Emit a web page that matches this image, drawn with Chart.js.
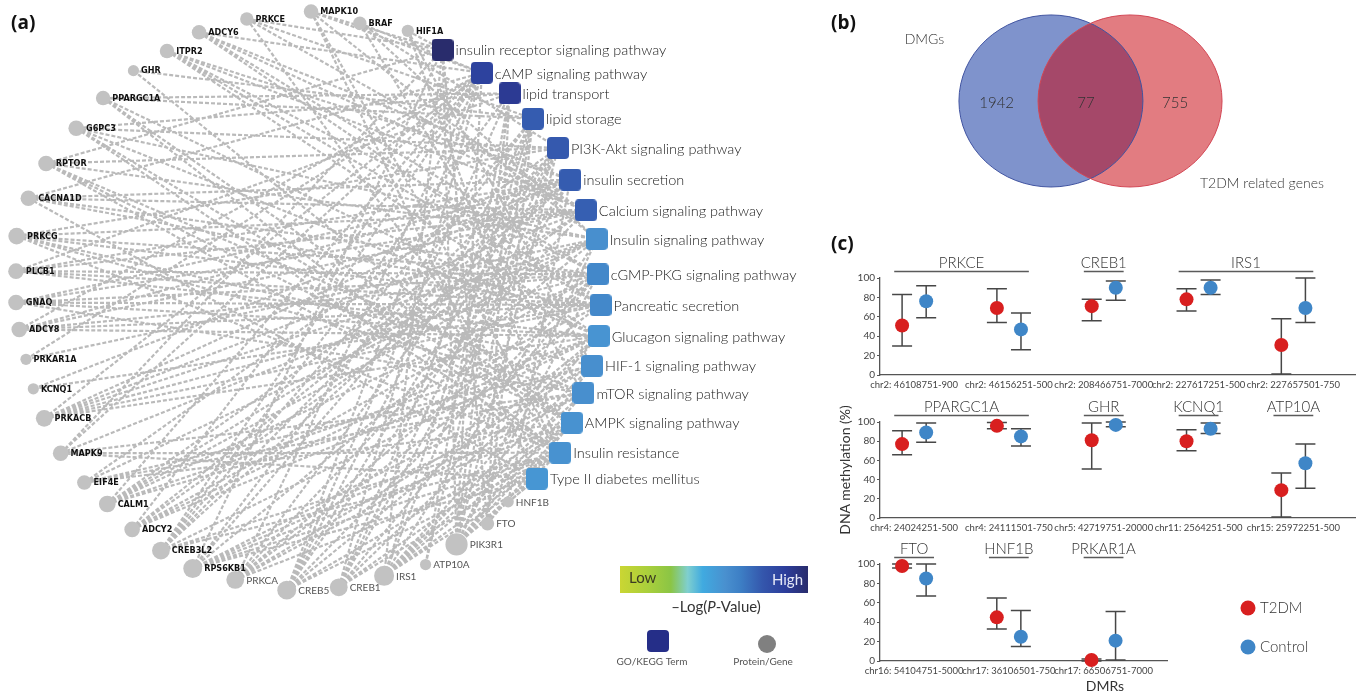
<!DOCTYPE html>
<html lang="en">
<head>
<meta charset="utf-8">
<title>DMG enrichment network and DMR methylation</title>
<script src="https://cdn.jsdelivr.net/npm/chart.js@4.4.1/dist/chart.umd.min.js"></script>
<style>
  html, body { margin: 0; padding: 0; background: #fff; }
  #page { position: relative; width: 1358px; height: 694px; overflow: hidden; font-family: Lato, 'Open Sans', sans-serif; color: #333; }
  #page canvas { position: absolute; }
  .tag { position: absolute; font: bold 19px 'Open Sans', 'DejaVu Sans', sans-serif; color: #111; line-height: 1; }
  .txt { position: absolute; white-space: nowrap; line-height: 1; font-size: 14px; color: #333; }
</style>
</head>
<body>
<div id="page">
  <canvas id="network" width="830" height="694" style="left:0px;top:0px"></canvas>
  <canvas id="venn" width="518" height="230" style="left:840px;top:0px"></canvas>
  <canvas id="row1" width="523" height="147" style="left:835px;top:250px"></canvas>
  <canvas id="row2" width="523" height="148" style="left:835px;top:392px"></canvas>
  <canvas id="row3" width="523" height="147" style="left:835px;top:536px"></canvas>
  <div class="tag" style="left:11px;top:13px">(a)</div>
  <div class="tag" style="left:831px;top:13px">(b)</div>
  <div class="tag" style="left:831px;top:234px">(c)</div>
  <div class="txt" style="left:845px;top:470px;transform:translate(-50%,-50%) rotate(-90deg)">DNA methylation (%)</div>
  <div class="txt" style="left:1105px;top:686px;transform:translate(-50%,-50%)">DMRs</div>
</div>
<script>
// ---------------- (a) GO/KEGG enrichment network ----------------
const termNames = [
  'insulin receptor signaling pathway', 'cAMP signaling pathway', 'lipid transport', 'lipid storage',
  'PI3K-Akt signaling pathway', 'insulin secretion', 'Calcium signaling pathway', 'Insulin signaling pathway',
  'cGMP-PKG signaling pathway', 'Pancreatic secretion', 'Glucagon signaling pathway', 'HIF-1 signaling pathway',
  'mTOR signaling pathway', 'AMPK signaling pathway', 'Insulin resistance', 'Type II diabetes mellitus'
];
// enrichment strength, -log10(P)
const termNegLogP = [14.0, 12.3, 12.8, 10.9, 11.0, 10.9, 10.8, 8.8, 9.2, 9.2, 8.5, 8.8, 8.8, 8.6, 8.6, 8.4];

const geneNames = [
  'HIF1A', 'BRAF', 'MAPK10', 'PRKCE', 'ADCY6', 'ITPR2', 'GHR', 'PPARGC1A', 'G6PC3', 'RPTOR', 'CACNA1D',
  'PRKCG', 'PLCB1', 'GNAQ', 'ADCY8', 'PRKAR1A', 'KCNQ1', 'PRKACB', 'MAPK9', 'EIF4E', 'CALM1', 'ADCY2',
  'CREB3L2', 'RPS6KB1', 'PRKCA', 'CREB5', 'CREB1', 'IRS1', 'ATP10A', 'PIK3R1', 'FTO', 'HNF1B'
];
// term indices each gene is annotated to
const geneTermLinks = [
  [0, 11, 14], [1, 4, 7, 12], [0, 1, 7, 14, 15], [0, 3, 6, 14], [1, 5, 6, 8, 9], [5, 6, 8, 9, 10],
  [3, 13], [2, 3, 10, 13, 14], [2, 4, 7, 10, 13, 14], [0, 4, 7, 12, 13, 14], [1, 5, 6, 8, 9, 15],
  [4, 6, 8, 9, 11, 12, 14], [2, 5, 6, 8, 9, 10], [5, 6, 8, 9, 10, 12], [1, 5, 6, 8, 9, 10], [1, 7],
  [5, 9], [1, 5, 6, 7, 8, 9, 10], [0, 1, 7, 12, 14, 15], [4, 7, 11, 12, 13], [1, 5, 6, 7, 8, 10, 11],
  [1, 5, 6, 8, 9, 10], [1, 2, 3, 4, 5, 10, 13, 14], [0, 3, 4, 7, 11, 12, 13, 14, 15],
  [1, 4, 6, 8, 9, 11, 12, 14], [1, 2, 3, 4, 5, 8, 10, 13, 14], [1, 3, 4, 5, 8, 10, 13, 14],
  [0, 3, 4, 7, 10, 11, 12, 13, 14, 15], [2, 3], [0, 1, 2, 3, 4, 7, 8, 11, 12, 13, 14, 15], [0, 2, 3, 13], [5, 15]
];

// ---------------- (b) overlap of gene sets ----------------
const vennSetNames = ['DMGs', 'T2DM related genes'];
const vennOnlyCounts = [1942, 755];
const vennSharedCount = 77;

// ---------------- (c) DMR methylation, mean with range ----------------
const dmrRow1 = ['chr2: 46108751-900', 'chr2: 46156251-500', 'chr2: 208466751-7000', 'chr2: 227617251-500', 'chr2: 227657501-750'];
const geneRow1 = ['PRKCE', 'PRKCE', 'CREB1', 'IRS1', 'IRS1'];
const t2dmRow1 = [51, 69, 71, 78, 31];
const t2dmLowRow1 = [30, 54, 56, 66, 1];
const t2dmHighRow1 = [83, 89, 78, 89, 58];
const ctrlRow1 = [76, 47, 90, 90, 69];
const ctrlLowRow1 = [59, 26, 77, 83, 54];
const ctrlHighRow1 = [92, 64, 97, 98, 100];

const dmrRow2 = ['chr4: 24024251-500', 'chr4: 24111501-750', 'chr5: 42719751-20000', 'chr11: 2564251-500', 'chr15: 25972251-500'];
const geneRow2 = ['PPARGC1A', 'PPARGC1A', 'GHR', 'KCNQ1', 'ATP10A'];
const t2dmRow2 = [77, 96, 81, 80, 29];
const t2dmLowRow2 = [66, 93, 51, 70, 1];
const t2dmHighRow2 = [91, 99.5, 99, 92, 47];
const ctrlRow2 = [89, 85, 97, 93, 57];
const ctrlLowRow2 = [79, 75, 95, 88, 31];
const ctrlHighRow2 = [99, 93, 100, 99, 77];

const dmrRow3 = ['chr16: 54104751-5000', 'chr17: 36106501-750', 'chr17: 66506751-7000'];
const geneRow3 = ['FTO', 'HNF1B', 'PRKAR1A'];
const t2dmRow3 = [98, 45, 1];
const t2dmLowRow3 = [96, 33, 0];
const t2dmHighRow3 = [100, 65, 2];
const ctrlRow3 = [85, 25, 21];
const ctrlLowRow3 = [67, 15, 1];
const ctrlHighRow3 = [100, 52, 51];

// ---------------- layout and styling ----------------
Chart.defaults.font.family = "Lato, 'Open Sans', sans-serif";
Chart.defaults.color = '#444';
Chart.defaults.animation = false;
Chart.defaults.responsive = false;
Chart.defaults.events = [];
Chart.defaults.layout.autoPadding = false;
Chart.defaults.plugins.legend.display = false;
Chart.defaults.plugins.tooltip.enabled = false;

// circular layout: angle (degrees, clockwise from 3 o'clock) and ring distance of each node
const termAngleDeg = [-61.2, -52.1, -45.3, -38.5, -31.0, -24.4, -17.7, -11.8, -5.0, 1.0, 7.0, 12.9, 18.5, 24.7, 30.9, 37.6];
const termRing = [0.988, 0.996, 1.006, 1.008, 1.021, 1.008, 1.02, 1.031, 1.017, 1.023, 1.024, 1.019, 1.016, 1.016, 1.029, 1.013];
const geneAngleDeg = [290.9, 281.2, 271.2, 258.3, 248.4, 241.0, 233.2, 225.0, 216.9, 207.8, 200.2, 192.5, 185.7,
  179.5, 174.1, 168.0, 161.9, 155.6, 147.9, 140.4, 134.1, 127.0, 119.9, 112.7, 104.0, 93.6, 83.3, 74.0, 65.5, 58.2, 50.8, 44.8];
const geneRing = [0.997, 0.976, 0.998, 0.993, 0.996, 0.985, 0.991, 0.988, 0.99, 1.013, 1.02, 1.022, 1.005, 1.0, 0.994,
  0.987, 0.989, 0.991, 0.998, 0.991, 0.983, 0.994, 1.0, 1.007, 0.998, 1.006, 1.001, 0.993, 1.006, 0.995, 0.999, 0.991];
const plainLabelGenes = new Set(['PRKCA', 'CREB5', 'CREB1', 'IRS1', 'ATP10A', 'PIK3R1', 'FTO', 'HNF1B']);
const nodeRadius = degree => 4.5 + 0.55 * degree;

const cmapStops = [[0, '#cad633'], [0.15, '#a9cf3c'], [0.27, '#8bc545'], [0.36, '#7fcfcf'], [0.44, '#40aae0'],
  [0.56, '#4990cf'], [0.64, '#3d7fc5'], [0.76, '#3456ac'], [0.88, '#2c3d9b'], [1, '#292c6c']];
const LOGP_MIN = 2, LOGP_MAX = 14;

function hexRgb(h) { return [1, 3, 5].map(i => parseInt(h.slice(i, i + 2), 16)); }
function cmap(t) {
  t = Math.max(0, Math.min(1, t));
  for (let i = 1; i < cmapStops.length; i++) {
    const [t1, c1] = cmapStops[i];
    const [t0, c0] = cmapStops[i - 1];
    if (t <= t1) {
      const f = (t - t0) / (t1 - t0), a = hexRgb(c0), b = hexRgb(c1);
      return 'rgb(' + a.map((v, k) => Math.round(v + (b[k] - v) * f)).join(',') + ')';
    }
  }
  return cmapStops[cmapStops.length - 1][1];
}
function roundedSquare(color, size, r) {
  const c = document.createElement('canvas');
  c.width = size; c.height = size;
  const g = c.getContext('2d');
  g.fillStyle = color;
  g.beginPath();
  g.roundRect(0, 0, size, size, r);
  g.fill();
  return c;
}

const rad = Math.PI / 180;
const genePts = geneNames.map((name, i) => ({ x: geneRing[i] * Math.cos(geneAngleDeg[i] * rad), y: geneRing[i] * Math.sin(geneAngleDeg[i] * rad) }));
const termPts = termNames.map((name, i) => ({ x: termRing[i] * Math.cos(termAngleDeg[i] * rad), y: termRing[i] * Math.sin(termAngleDeg[i] * rad) }));
const edgePts = [];
geneTermLinks.forEach((list, gi) => list.forEach(ti => {
  edgePts.push({ x: genePts[gi].x, y: genePts[gi].y }, { x: termPts[ti].x, y: termPts[ti].y }, { x: null, y: null });
}));
const termColors = termNegLogP.map(v => cmap((v - LOGP_MIN) / (LOGP_MAX - LOGP_MIN)));

const networkLabels = {
  id: 'networkLabels',
  afterDatasetsDraw(chart) {
    const ctx = chart.ctx;
    ctx.save();
    ctx.textBaseline = 'middle';
    chart.getDatasetMeta(0).data.forEach((el, i) => {
      ctx.font = '300 14.5px Lato, "Open Sans", sans-serif';
      ctx.fillStyle = '#222';
      ctx.fillText(termNames[i], el.x + 13, el.y + 1);
    });
    chart.getDatasetMeta(1).data.forEach((el, i) => {
      const name = geneNames[i];
      const r = nodeRadius(geneTermLinks[i].length);
      if (plainLabelGenes.has(name)) {
        ctx.font = '10px Lato, "Open Sans", sans-serif';
        ctx.fillStyle = '#555';
      } else {
        ctx.font = 'bold 9px "DejaVu Sans Condensed", "Liberation Sans", sans-serif';
        ctx.fillStyle = '#111';
      }
      ctx.fillText(name, el.x + r + 2, el.y + 0.5);
    });
    ctx.restore();
  },
  afterDraw(chart) {
    const ctx = chart.ctx;
    ctx.save();
    // colour key
    const x0 = 620, x1 = 808, y0 = 566, y1 = 593;
    const grad = ctx.createLinearGradient(x0, 0, x1, 0);
    cmapStops.forEach(([t, c]) => grad.addColorStop(t, c));
    ctx.fillStyle = grad;
    ctx.fillRect(x0, y0, x1 - x0, y1 - y0);
    ctx.textBaseline = 'middle';
    ctx.font = '15px Lato, "Open Sans", sans-serif';
    ctx.fillStyle = '#3b3b22';
    ctx.textAlign = 'left';
    ctx.fillText('Low', 629, 578);
    ctx.fillStyle = '#e4e7f6';
    ctx.textAlign = 'right';
    ctx.fillText('High', 803, 580);
    // -Log(P-Value) with italic P
    const parts = [['\u2013Log(', '15px'], ['P', 'italic 15px'], ['-Value)', '15px']];
    const fam = ' Lato, "Open Sans", sans-serif';
    let total = 0;
    parts.forEach(p => { ctx.font = p[1] + fam; total += ctx.measureText(p[0]).width; });
    let x = 716 - total / 2;
    ctx.textAlign = 'left';
    ctx.fillStyle = '#333';
    parts.forEach(p => { ctx.font = p[1] + fam; ctx.fillText(p[0], x, 607); x += ctx.measureText(p[0]).width; });
    // node type key
    ctx.fillStyle = '#252e88';
    ctx.beginPath(); ctx.roundRect(647, 630, 22, 22, 4); ctx.fill();
    ctx.fillStyle = '#808080';
    ctx.beginPath(); ctx.arc(767, 644, 9, 0, 2 * Math.PI); ctx.fill();
    ctx.font = '10px Lato, "Open Sans", sans-serif';
    ctx.fillStyle = '#555';
    ctx.textAlign = 'center';
    ctx.fillText('GO/KEGG Term', 652, 662);
    ctx.fillText('Protein/Gene', 763, 662);
    ctx.restore();
  }
};

new Chart(document.getElementById('network'), {
  type: 'scatter',
  data: {
    datasets: [
      { label: 'GO/KEGG Term', data: termPts, pointStyle: termColors.map(c => roundedSquare(c, 22, 4)), pointRadius: 11, clip: false },
      { label: 'Protein/Gene', data: genePts, pointRadius: geneTermLinks.map(l => nodeRadius(l.length)),
        backgroundColor: '#c2c2c2', borderWidth: 0, clip: false },
      { label: 'links', data: edgePts, showLine: true, pointRadius: 0, borderColor: '#bababa', borderWidth: 2.2,
        borderDash: [4, 2], spanGaps: false, clip: false }
    ]
  },
  options: {
    layout: { padding: 0 },
    scales: {
      x: { type: 'linear', display: false, min: -1.0554, max: 1.8166 },
      y: { type: 'linear', display: false, reverse: true, min: -1.038, max: 1.3633 }
    }
  },
  plugins: [networkLabels]
});

// ---------------- (b) Venn diagram ----------------
const VENN_OFFSET = 0.43;               // half distance between set centres (radius = 1)
const vennCountX = [-1.02, -0.05, 0.92];
const vennStyles = [
  { fill: 'rgba(42,75,170,0.6)', stroke: '#4053a0' },
  { fill: 'rgba(200,4,14,0.52)', stroke: '#d24654' }
];
const vennDraw = {
  id: 'vennDraw',
  beforeDatasetsDraw(chart) {
    const { ctx, scales: { x, y } } = chart;
    const ellipses = chart.data.datasets.map(ds => {
      const c = ds.data[0];
      const cx = x.getPixelForValue(c.x), cy = y.getPixelForValue(c.y);
      return { cx, cy, rx: x.getPixelForValue(c.x + 1) - cx, ry: cy - y.getPixelForValue(c.y + 1) };
    });
    ctx.save();
    ellipses.forEach((e, i) => {
      ctx.beginPath(); ctx.ellipse(e.cx, e.cy, e.rx, e.ry, 0, 0, 2 * Math.PI);
      ctx.fillStyle = vennStyles[i].fill; ctx.fill();
    });
    ellipses.forEach((e, i) => {
      ctx.beginPath(); ctx.ellipse(e.cx, e.cy, e.rx, e.ry, 0, 0, 2 * Math.PI);
      ctx.strokeStyle = vennStyles[i].stroke; ctx.lineWidth = 1; ctx.stroke();
    });
    ctx.fillStyle = '#333';
    ctx.font = '300 15px Lato, "Open Sans", sans-serif';
    ctx.textAlign = 'center'; ctx.textBaseline = 'middle';
    [vennOnlyCounts[0], vennSharedCount, vennOnlyCounts[1]].forEach((n, i) => {
      ctx.fillText(String(n), x.getPixelForValue(vennCountX[i]), y.getPixelForValue(-0.02));
    });
    ctx.font = '300 14px Lato, "Open Sans", sans-serif';
    ctx.textAlign = 'left';
    ctx.fillText(vennSetNames[0], x.getPixelForValue(-2.02), y.getPixelForValue(0.72));
    ctx.fillText(vennSetNames[1], x.getPixelForValue(1.19), y.getPixelForValue(-0.96));
    ctx.restore();
  }
};
new Chart(document.getElementById('venn'), {
  type: 'scatter',
  data: {
    datasets: [
      { label: vennSetNames[0], data: [{ x: -VENN_OFFSET, y: 0 }], pointRadius: 0 },
      { label: vennSetNames[1], data: [{ x: VENN_OFFSET, y: 0 }], pointRadius: 0 }
    ]
  },
  options: {
    layout: { padding: 0 },
    scales: {
      x: { type: 'linear', display: false, min: -2.723, max: 2.908 },
      y: { type: 'linear', display: false, min: -1.5, max: 1.174 }
    }
  },
  plugins: [vennDraw]
});

// ---------------- (c) methylation per DMR ----------------
const DODGE = 0.127;
const GROUP_HALF = 0.21;
const T2DM_COLOR = '#d81f1f', CTRL_COLOR = '#3f86c7';

const errorBars = {
  id: 'errorBars',
  beforeDatasetsDraw(chart) {
    const { ctx, scales: { x, y } } = chart;
    ctx.save();
    ctx.strokeStyle = '#474747';
    ctx.lineWidth = 1.5;
    chart.data.datasets.forEach(ds => {
      ds.data.forEach((p, i) => {
        const px = x.getPixelForValue(p.x);
        const yl = y.getPixelForValue(ds.low[i]), yh = y.getPixelForValue(ds.high[i]);
        ctx.beginPath();
        ctx.moveTo(px, yl); ctx.lineTo(px, yh);
        ctx.moveTo(px - 10, yl); ctx.lineTo(px + 10, yl);
        ctx.moveTo(px - 10, yh); ctx.lineTo(px + 10, yh);
        ctx.stroke();
      });
    });
    ctx.restore();
  }
};
const geneHeaders = {
  id: 'geneHeaders',
  afterDraw(chart) {
    const genes = chart.options.plugins.geneHeaders.genes;
    const { ctx, chartArea, scales: { x } } = chart;
    const ly = chartArea.top - 6.5;
    ctx.save();
    let s = 0;
    for (let i = 1; i <= genes.length; i++) {
      if (i === genes.length || genes[i] !== genes[s]) {
        const x1 = x.getPixelForValue(s - GROUP_HALF), x2 = x.getPixelForValue(i - 1 + GROUP_HALF);
        ctx.strokeStyle = '#5a5a5a'; ctx.lineWidth = 1.3;
        ctx.beginPath(); ctx.moveTo(x1, ly); ctx.lineTo(x2, ly); ctx.stroke();
        ctx.fillStyle = '#333';
        ctx.font = '300 15px Lato, "Open Sans", sans-serif';
        ctx.textAlign = 'center'; ctx.textBaseline = 'alphabetic';
        ctx.fillText(genes[s], (x1 + x2) / 2, ly - 4);
        s = i;
      }
    }
    ctx.restore();
  }
};
const groupLegend = {
  id: 'groupLegend',
  afterDraw(chart) {
    if (!chart.options.plugins.groupLegend.show) return;
    const ctx = chart.ctx;
    ctx.save();
    ctx.font = '300 15px Lato, "Open Sans", sans-serif';
    ctx.textBaseline = 'middle';
    chart.data.datasets.forEach((ds, i) => {
      const cy = 72 + i * 39;
      ctx.fillStyle = ds.backgroundColor;
      ctx.beginPath(); ctx.arc(413, cy, 7.5, 0, 2 * Math.PI); ctx.fill();
      ctx.fillStyle = '#333';
      ctx.fillText(ds.label, 425, cy);
    });
    ctx.restore();
  }
};

function dmrChart(id, labels, genes, t2dm, t2dmLow, t2dmHigh, ctrl, ctrlLow, ctrlHigh, xMax, padTop, padRight, showLegend) {
  return new Chart(document.getElementById(id), {
    type: 'scatter',
    data: {
      datasets: [
        { label: 'T2DM', data: t2dm.map((v, i) => ({ x: i - DODGE, y: v })), low: t2dmLow, high: t2dmHigh,
          backgroundColor: T2DM_COLOR, borderWidth: 0, pointRadius: 7, clip: false },
        { label: 'Control', data: ctrl.map((v, i) => ({ x: i + DODGE, y: v })), low: ctrlLow, high: ctrlHigh,
          backgroundColor: CTRL_COLOR, borderWidth: 0, pointRadius: 7, clip: false }
      ]
    },
    options: {
      layout: { padding: { top: padTop, right: padRight, left: 0, bottom: 0 } },
      plugins: { geneHeaders: { genes }, groupLegend: { show: showLegend } },
      scales: {
        x: {
          type: 'linear', min: -0.36, max: xMax,
          afterBuildTicks: s => { s.ticks = labels.map((_, i) => ({ value: i })); },
          afterFit: s => { s.height = 22; },
          ticks: { callback: v => labels[v], autoSkip: false, maxRotation: 0, minRotation: 0, padding: 4,
            font: { size: 9.5 }, color: '#444' },
          grid: { display: false, drawTicks: false },
          border: { display: true, color: '#555', width: 1.3 }
        },
        y: {
          type: 'linear', min: 0, max: 100,
          afterFit: s => { s.width = 45; },
          ticks: { stepSize: 10, callback: v => (v % 20 === 0 ? v : ''), padding: 2, font: { size: 10 }, color: '#444' },
          grid: { drawOnChartArea: false, drawTicks: true, tickLength: 3, color: '#555' },
          border: { display: true, color: '#555', width: 1.3 }
        }
      }
    },
    plugins: [errorBars, geneHeaders, groupLegend]
  });
}

dmrChart('row1', dmrRow1, geneRow1, t2dmRow1, t2dmLowRow1, t2dmHighRow1, ctrlRow1, ctrlLowRow1, ctrlHighRow1, 4.65, 28, 3, false);
dmrChart('row2', dmrRow2, geneRow2, t2dmRow2, t2dmLowRow2, t2dmHighRow2, ctrlRow2, ctrlLowRow2, ctrlHighRow2, 4.65, 30, 3, false);
dmrChart('row3', dmrRow3, geneRow3, t2dmRow3, t2dmLowRow3, t2dmHighRow3, ctrlRow3, ctrlLowRow3, ctrlHighRow3, 2.67, 28, 191, true);
</script>
</body>
</html>
